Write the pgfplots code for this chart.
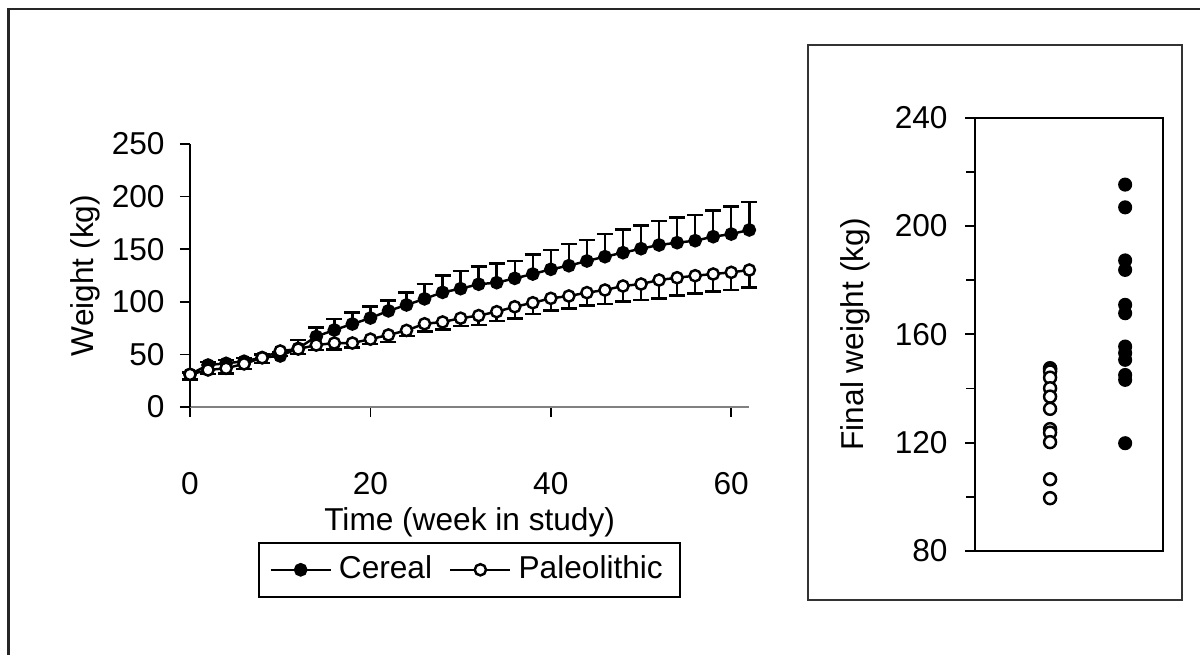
\documentclass[border=0pt]{standalone}
\usepackage{pgfplots}
\pgfplotsset{compat=1.18}
\usepackage{pgfplotstable}
\usepackage{fontspec}
\setmainfont{Liberation Sans}

% weekly means; cerr = upper SD (cereal), perr = lower SD (paleolithic)
\pgfplotstableread{
week cer   cerr  pal   perr
0    31.0  2.0   31.0  5.0
2    39.9  3.0   35.2  4.0
4    41.5  3.0   36.8  4.8
6    43.5  3.0   41.0  4.7
8    47.0  3.0   46.8  4.8
10   48.5  4.0   53.2  4.7
12   55.8  8.0   55.1  4.7
14   67.0  8.5   58.9  4.7
16   73.2  10.5  60.8  6.0
18   78.9  10.8  60.8  4.3
20   84.6  10.8  64.5  4.7
22   91.4  9.7   68.5  6.5
24   97.0  12.0  72.8  5.2
26   102.8 14.2  79.1  7.5
28   109.0 16.2  80.8  7.0
30   112.5 16.8  84.4  7.6
32   116.7 16.7  86.9  9.0
34   118.2 18.4  90.6  8.6
36   122.3 16.5  95.3  11.0
38   126.4 18.7  99.1  10.7
40   130.9 18.3  103.3 11.4
42   134.3 20.7  105.5 11.7
44   138.8 19.9  108.7 12.4
46   142.9 21.5  111.2 13.3
48   146.7 22.2  115.0 14.9
50   150.5 22.2  116.9 15.2
52   154.0 22.8  120.7 17.4
54   156.2 24.1  122.9 17.1
56   158.1 24.4  124.8 16.7
58   161.9 24.7  126.4 16.8
60   164.4 26.0  128.0 16.8
62   168.3 26.6  130.2 16.4
}\weights

\pgfplotstableread{
grp final
1   147.5
1   147.1
1   146.3
1   144.0
1   140.1
1   137.0
1   132.5
1   125.0
1   123.7
1   120.2
1   106.5
1   99.5
}\paleo

\pgfplotstableread{
grp final
2   215.3
2   206.9
2   187.3
2   183.8
2   170.9
2   167.8
2   155.5
2   153.1
2   150.6
2   145.0
2   143.2
2   119.8
}\cereal

\begin{document}
\begin{tikzpicture}[font=\fontsize{9}{11}\selectfont]
\useasboundingbox (0,0) rectangle (12cm,6.55cm);
\draw[line width=0.8pt, black!85] (0.085cm,-0.5cm) rectangle (12.5cm,6.46cm);
\draw[line width=0.5pt, black!80] (8.08cm,0.55cm) rectangle (11.82cm,6.10cm);

\begin{axis}[
  at={(1.90cm,2.48cm)}, anchor=south west,
  scale only axis, width=5.593cm, height=2.63cm,
  xmin=0, xmax=62, ymin=0, ymax=250,
  axis x line=bottom, axis y line=left,
  axis line style={-, line width=0.6pt},
  x axis line style={gray},
  tick align=outside, major tick length=0.1cm,
  tick style={black, line width=0.5pt},
  xtick={0,20,40,60}, ytick={0,50,...,250},
  /pgf/number format/assume math mode=true,
  xticklabel style={yshift=-0.43cm},
  yticklabel style={xshift=-0.03cm},
  xlabel={Time (week in study)},
  ylabel={Weight (kg)},
  xlabel style={at={(axis description cs:0.5,-0.44)}, anchor=center},
  ylabel style={at={(axis description cs:-0.188,0.5)}, anchor=center},
  legend columns=2,
  legend style={at={(0.5,-0.619)}, anchor=center, draw=black,
    line width=0.6pt, inner xsep=3pt, inner ysep=1.7pt,
    /tikz/every even column/.append style={column sep=0.1cm}},
  clip=false,
]
\addplot[black, line width=0.7pt, mark=*, mark size=1.6pt,
  mark options={fill=black},
  error bars/.cd, y dir=plus, y explicit,
  error bar style={line width=0.7pt},
  error mark options={rotate=90, mark size=0.08cm, line width=0.7pt}]
  table[x=week, y=cer, y error=cerr] {\weights};
\addlegendentry{Cereal}
\addplot[black, line width=0.7pt, mark=*, mark size=1.6pt,
  mark options={fill=white},
  error bars/.cd, y dir=minus, y explicit,
  error bar style={line width=0.7pt},
  error mark options={rotate=90, mark size=0.08cm, line width=0.7pt}]
  table[x=week, y=pal, y error=perr] {\weights};
\addlegendentry{Paleolithic}
\end{axis}

\begin{axis}[
  at={(9.75cm,1.04cm)}, anchor=south west,
  scale only axis, width=1.877cm, height=4.333cm,
  xmin=0, xmax=2.5, ymin=80, ymax=240,
  xtick=\empty, ytick={80,120,...,240}, minor ytick={100,140,180,220},
  ytick pos=left, tick align=outside,
  major tick length=0.1cm, minor tick length=0.09cm,
  tick style={black, line width=0.5pt},
  axis line style={line width=0.6pt},
  /pgf/number format/assume math mode=true,
  yticklabel style={xshift=-0.05cm},
  ylabel={Final weight (kg)},
  ylabel style={at={(axis description cs:-0.639,0.5)}, anchor=center},
  clip=false,
]
\addplot[only marks, mark=*, mark size=1.7pt, line width=0.7pt,
  mark options={fill=white, draw=black}]
  table[x=grp, y=final] {\paleo};
\addplot[only marks, mark=*, mark size=1.8pt, mark options={fill=black}]
  table[x=grp, y=final] {\cereal};
\end{axis}
\end{tikzpicture}
\end{document}
